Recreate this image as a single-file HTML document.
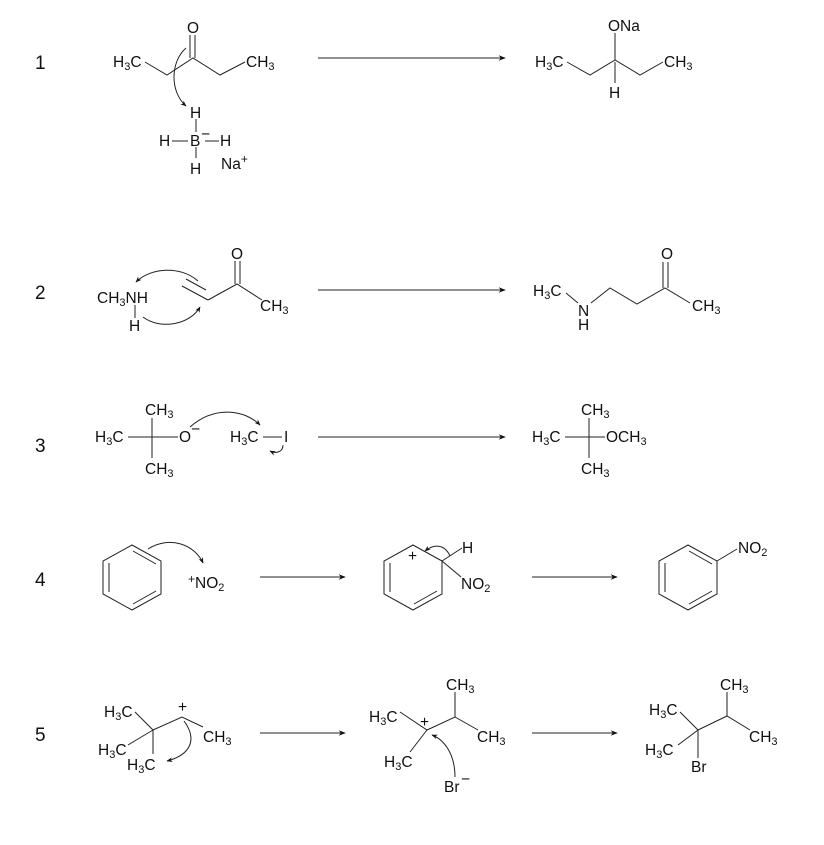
<!DOCTYPE html>
<html><head><meta charset="utf-8"><style>
html,body{margin:0;padding:0;background:#fff;}
svg{display:block;}
text{font-family:"Liberation Sans",sans-serif;font-size:15.5px;fill:#111;}
.n{font-size:19px;}
</style></head><body>
<svg width="824" height="845" viewBox="0 0 824 845" xmlns="http://www.w3.org/2000/svg">
<defs>
<marker id="a" viewBox="0 0 10 10" refX="9" refY="5" markerWidth="7" markerHeight="7" orient="auto"><path d="M0,1 L10,5 L0,9 L3,5 Z" fill="#111"/></marker>
<marker id="c" viewBox="0 0 10 10" refX="9" refY="5" markerWidth="6" markerHeight="6" orient="auto"><path d="M0,1 L10,5 L0,9 L3,5 Z" fill="#111"/></marker>
</defs>
<g stroke="#222" stroke-width="1" fill="none">
<line x1="318" y1="58" x2="505" y2="58" marker-end="url(#a)"/>
<line x1="318" y1="290" x2="505" y2="290" marker-end="url(#a)"/>
<line x1="318" y1="437" x2="505" y2="437" marker-end="url(#a)"/>
<line x1="260" y1="577" x2="345" y2="577" marker-end="url(#a)"/>
<line x1="532" y1="577" x2="617" y2="577" marker-end="url(#a)"/>
<line x1="260" y1="733" x2="345" y2="733" marker-end="url(#a)"/>
<line x1="532" y1="733" x2="617" y2="733" marker-end="url(#a)"/>

<polyline points="145,62 167,75 193,58 220,75 245,62"/>
<line x1="190" y1="58" x2="190" y2="35"/><line x1="195" y1="58" x2="195" y2="35"/>
<path d="M186,48 C170,62 170,92 186,106" marker-end="url(#c)"/>
<line x1="196" y1="119" x2="196" y2="132"/><line x1="196" y1="147" x2="196" y2="158"/>
<line x1="172" y1="141" x2="188" y2="141"/><line x1="205" y1="141" x2="219" y2="141"/>
<polyline points="567,62 590,75 615,60 640,75 663,62"/>
<line x1="615" y1="60" x2="615" y2="33"/><line x1="615" y1="62" x2="615" y2="83"/>

<line x1="135" y1="305" x2="135" y2="318"/>
<line x1="182" y1="286" x2="208" y2="300"/><line x1="186" y1="279" x2="206" y2="290"/>
<polyline points="208,300 237,284 262,300"/>
<line x1="235" y1="284" x2="235" y2="261"/><line x1="240" y1="284" x2="240" y2="261"/>
<path d="M198,281 C180,265 150,268 136,282" marker-end="url(#c)"/>
<path d="M143,317 C160,330 190,325 200,307" marker-end="url(#c)"/>
<line x1="566" y1="293" x2="578" y2="303"/>
<polyline points="591,303 610,288 637,304 665,288 690,303"/>
<line x1="663" y1="288" x2="663" y2="262"/><line x1="668" y1="288" x2="668" y2="262"/>

<line x1="128" y1="437" x2="178" y2="437"/><line x1="152" y1="418" x2="152" y2="458"/>
<path d="M190,427 C215,405 245,410 260,425" marker-end="url(#c)"/>
<line x1="263" y1="437" x2="282" y2="437"/>
<path d="M283,445 C283,452 276,454 270,451" marker-end="url(#c)"/>
<line x1="565" y1="437" x2="605" y2="437"/><line x1="589" y1="418" x2="589" y2="458"/>

<polygon points="132,545 161,561 161,594 132,610 103,594 103,561"/>
<line x1="133" y1="551" x2="156" y2="564"/><line x1="109" y1="563" x2="109" y2="592"/><line x1="133" y1="604" x2="156" y2="591"/>
<path d="M148,549 C170,535 195,545 203,563" marker-end="url(#c)"/>
<polyline points="442,561 413,545 384,561 384,594 413,610 442,594 442,561"/>
<line x1="390" y1="563" x2="390" y2="592"/><line x1="414" y1="604" x2="437" y2="591"/>
<line x1="442" y1="561" x2="462" y2="548"/><line x1="442" y1="561" x2="461" y2="577"/>
<path d="M450,556 C445,545 435,543 425,551" marker-end="url(#c)"/>
<polygon points="688,545 717,561 717,594 688,610 659,594 659,561"/>
<line x1="689" y1="551" x2="712" y2="564"/><line x1="665" y1="563" x2="665" y2="592"/><line x1="689" y1="604" x2="712" y2="591"/>
<line x1="717" y1="561" x2="737" y2="549"/>

<polyline points="135,712 153,730 182,717 203,727"/>
<line x1="153" y1="730" x2="128" y2="745"/><line x1="153" y1="730" x2="153" y2="754"/>
<path d="M184,721 C198,740 190,755 167,761" marker-end="url(#c)"/>
<polyline points="400,712 427,730 455,717 478,730"/>
<line x1="455" y1="717" x2="455" y2="692"/><line x1="427" y1="730" x2="410" y2="752"/>
<path d="M455,777 C455,755 445,740 432,735" marker-end="url(#c)"/>
<polyline points="680,712 698,730 727,716 750,730"/>
<line x1="727" y1="716" x2="727" y2="692"/><line x1="698" y1="730" x2="678" y2="745"/><line x1="698" y1="730" x2="698" y2="758"/>
</g>

<g>
<text class="n" x="35" y="69">1</text>
<text class="n" x="35" y="299">2</text>
<text class="n" x="35" y="452">3</text>
<text class="n" x="35" y="586">4</text>
<text class="n" x="35" y="741">5</text>

<text x="113" y="67">H<tspan font-size="11" dy="3">3</tspan><tspan dy="-3">C</tspan></text>
<text x="246" y="67">CH<tspan font-size="11" dy="3">3</tspan></text>
<text x="187" y="33">O</text>
<text x="190" y="118">H</text>
<text x="159" y="146">H</text>
<text x="190" y="146">B</text><text x="201" y="139" font-size="11">−</text>
<text x="220" y="146">H</text>
<text x="190" y="174">H</text>
<text x="221" y="169">Na<tspan font-size="12" dy="-6">+</tspan></text>
<text x="535" y="67">H<tspan font-size="11" dy="3">3</tspan><tspan dy="-3">C</tspan></text>
<text x="664" y="67">CH<tspan font-size="11" dy="3">3</tspan></text>
<text x="608" y="31">ONa</text>
<text x="609" y="98">H</text>

<text x="97" y="303">CH<tspan font-size="11" dy="3">3</tspan><tspan dy="-3">NH</tspan></text>
<text x="129" y="331">H</text>
<text x="260" y="311">CH<tspan font-size="11" dy="3">3</tspan></text>
<text x="231" y="259">O</text>
<text x="533" y="296">H<tspan font-size="11" dy="3">3</tspan><tspan dy="-3">C</tspan></text>
<text x="578" y="316">N</text>
<text x="578" y="330">H</text>
<text x="692" y="311">CH<tspan font-size="11" dy="3">3</tspan></text>
<text x="661" y="259">O</text>

<text x="95" y="442">H<tspan font-size="11" dy="3">3</tspan><tspan dy="-3">C</tspan></text>
<text x="145" y="415">CH<tspan font-size="11" dy="3">3</tspan></text>
<text x="145" y="474">CH<tspan font-size="11" dy="3">3</tspan></text>
<text x="179" y="442">O</text><text x="191" y="434" font-size="11">−</text>
<text x="230" y="442">H<tspan font-size="11" dy="3">3</tspan><tspan dy="-3">C</tspan></text>
<text x="284" y="442">I</text>
<text x="532" y="442">H<tspan font-size="11" dy="3">3</tspan><tspan dy="-3">C</tspan></text>
<text x="581" y="415">CH<tspan font-size="11" dy="3">3</tspan></text>
<text x="581" y="474">CH<tspan font-size="11" dy="3">3</tspan></text>
<text x="606" y="442">OCH<tspan font-size="11" dy="3">3</tspan></text>

<text x="188" y="588"><tspan font-size="12" dy="-5">+</tspan><tspan dy="5">NO</tspan><tspan font-size="11" dy="3">2</tspan></text>
<text x="408" y="561" font-size="12">+</text>
<text x="462" y="553">H</text>
<text x="461" y="589">NO<tspan font-size="11" dy="3">2</tspan></text>
<text x="738" y="553">NO<tspan font-size="11" dy="3">2</tspan></text>

<text x="104" y="717">H<tspan font-size="11" dy="3">3</tspan><tspan dy="-3">C</tspan></text>
<text x="98" y="755">H<tspan font-size="11" dy="3">3</tspan><tspan dy="-3">C</tspan></text>
<text x="127" y="770">H<tspan font-size="11" dy="3">3</tspan><tspan dy="-3">C</tspan></text>
<text x="178" y="712" font-size="12">+</text>
<text x="203" y="742">CH<tspan font-size="11" dy="3">3</tspan></text>
<text x="369" y="722">H<tspan font-size="11" dy="3">3</tspan><tspan dy="-3">C</tspan></text>
<text x="420" y="727" font-size="12">+</text>
<text x="446" y="690">CH<tspan font-size="11" dy="3">3</tspan></text>
<text x="477" y="742">CH<tspan font-size="11" dy="3">3</tspan></text>
<text x="384" y="767">H<tspan font-size="11" dy="3">3</tspan><tspan dy="-3">C</tspan></text>
<text x="444" y="792">Br</text><text x="461" y="784" font-size="11">−</text>
<text x="649" y="715">H<tspan font-size="11" dy="3">3</tspan><tspan dy="-3">C</tspan></text>
<text x="645" y="755">H<tspan font-size="11" dy="3">3</tspan><tspan dy="-3">C</tspan></text>
<text x="720" y="690">CH<tspan font-size="11" dy="3">3</tspan></text>
<text x="749" y="742">CH<tspan font-size="11" dy="3">3</tspan></text>
<text x="691" y="772">Br</text>
</g>
</svg>
</body></html>
